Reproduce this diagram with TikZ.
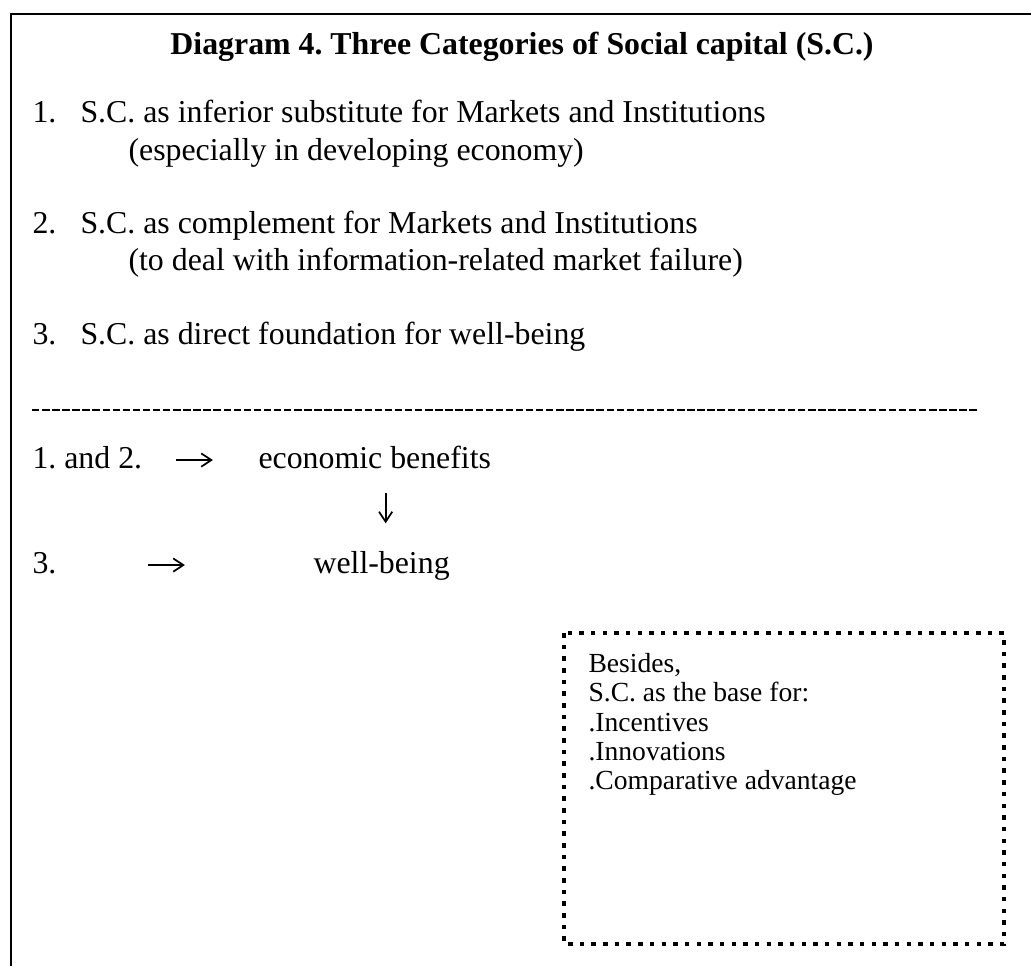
\documentclass[tikz,border=0pt]{standalone}
\usepackage{fontspec}
\setmainfont{Liberation Serif}
\frenchspacing
\usetikzlibrary{arrows.meta,positioning}
\tikzset{entry/.style={inner sep=0pt,anchor=base west,font=\fontsize{12}{13.9}\selectfont},
headline/.style={entry,anchor=base,font=\fontsize{12}{13.9}\selectfont\bfseries},
notetext/.style={inner sep=0pt,anchor=north west,align=left,font=\fontsize{10.4}{11}\selectfont},
frameline/.style={line width=0.65pt},
dashrule/.style={line width=0.8pt,dash pattern=on 2.8pt off 1pt},
dotbox/.style={line width=1.7pt,dash pattern=on 1.7pt off 2.7pt},
flow/.style={-{Straight Barb[length=3.8pt,width=5pt]},line width=0.65pt}}
\begin{document}
\begin{tikzpicture}[x=0.377pt,y=-0.377pt]
\useasboundingbox (0,0) rectangle (1031,966);
\draw[frameline](1031,14)--(11,14)--(11,966);
\node[headline](title)at(522,54){Diagram 4. Three Categories of Social capital (S.C.)};
\node[entry](num1)at(32,122){1.};
\node[entry](sub)at(80,122){S.C. as inferior substitute for Markets and Institutions};
\node[entry](subnote)at(128,160){(especially in developing economy)};
\node[entry](num2)at(32,233){2.};
\node[entry](compl)at(80,233){S.C. as complement for Markets and Institutions};
\node[entry](complnote)at(128,270){(to deal with information-related market failure)};
\node[entry](num3)at(32,344){3.};
\node[entry](found)at(80,344){S.C. as direct foundation for well-being};
\draw[dashrule](32,410)--(977,410);
\node[entry](both)at(32,468){1. and 2.};
\node[entry](econ)at(258,468){economic benefits};
\node[entry](third)at(32,573){3.};
\node[entry](well)at(313,573){well-being};
\draw[flow,shorten <=12.6pt,shorten >=17pt]([yshift=3pt]both.base east)--([yshift=3pt]econ.base west);
\draw[flow,shorten <=34.3pt,shorten >=48.3pt]([yshift=3pt]third.base east)--([yshift=3pt]well.base west);
\coordinate(drop)at([xshift=4.1pt]econ.south);
\draw[flow,shorten <=9pt,shorten >=10.2pt](drop)--(drop|-well.north);
\draw[dotbox](564,633)rectangle(1004,944);
\node[notetext](note)at(588,653){Besides,\\S.C. as the base for:\\.Incentives\\.Innovations\\.Comparative advantage};
\end{tikzpicture}
\end{document}
